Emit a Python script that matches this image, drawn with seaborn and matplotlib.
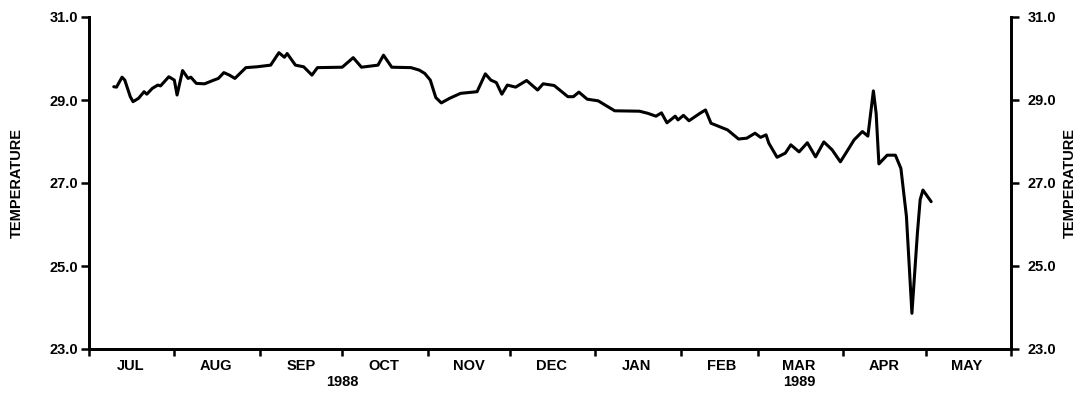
import matplotlib
matplotlib.use("Agg")
import matplotlib.pyplot as plt
import matplotlib.ticker as mticker
import matplotlib.transforms as mtransforms
import pandas as pd
import seaborn as sns

# Daily water temperature record, July 1988 - May 1989
dates = [
    "1988-07-10", "1988-07-11", "1988-07-13", "1988-07-14", "1988-07-16",
    "1988-07-17", "1988-07-19", "1988-07-21", "1988-07-22", "1988-07-24",
    "1988-07-26", "1988-07-27", "1988-07-30", "1988-08-01", "1988-08-02",
    "1988-08-04", "1988-08-06", "1988-08-07", "1988-08-09", "1988-08-12",
    "1988-08-15", "1988-08-17", "1988-08-19", "1988-08-21", "1988-08-23",
    "1988-08-27", "1988-08-31", "1988-09-05", "1988-09-08", "1988-09-10",
    "1988-09-11", "1988-09-14", "1988-09-17", "1988-09-20", "1988-09-22",
    "1988-10-01", "1988-10-05", "1988-10-08", "1988-10-14", "1988-10-16",
    "1988-10-19", "1988-10-26", "1988-10-29", "1988-10-31", "1988-11-01",
    "1988-11-02", "1988-11-04", "1988-11-06", "1988-11-09", "1988-11-13",
    "1988-11-19", "1988-11-22", "1988-11-24", "1988-11-26", "1988-11-28",
    "1988-11-30", "1988-12-03", "1988-12-07", "1988-12-11", "1988-12-13",
    "1988-12-17", "1988-12-22", "1988-12-24", "1988-12-26", "1988-12-29",
    "1989-01-02", "1989-01-08", "1989-01-17", "1989-01-20", "1989-01-23",
    "1989-01-25", "1989-01-27", "1989-01-30", "1989-01-31", "1989-02-02",
    "1989-02-04", "1989-02-08", "1989-02-10", "1989-02-12", "1989-02-18",
    "1989-02-22", "1989-02-25", "1989-02-28", "1989-03-02", "1989-03-04",
    "1989-03-05", "1989-03-08", "1989-03-11", "1989-03-13", "1989-03-16",
    "1989-03-19", "1989-03-22", "1989-03-25", "1989-03-28", "1989-03-31",
    "1989-04-02", "1989-04-05", "1989-04-08", "1989-04-10", "1989-04-12",
    "1989-04-13", "1989-04-14", "1989-04-17", "1989-04-20", "1989-04-22",
    "1989-04-24", "1989-04-26", "1989-04-28", "1989-04-29", "1989-04-30",
    "1989-05-03",
]
temperature = [
    29.32, 29.31, 29.55, 29.48, 29.08,
    28.96, 29.04, 29.20, 29.14, 29.28,
    29.36, 29.34, 29.56, 29.48, 29.12,
    29.71, 29.52, 29.55, 29.40, 29.39,
    29.47, 29.52, 29.66, 29.60, 29.52,
    29.78, 29.80, 29.84, 30.14, 30.03,
    30.12, 29.84, 29.80, 29.60, 29.78,
    29.79, 30.02, 29.79, 29.84, 30.08,
    29.79, 29.78, 29.72, 29.64, 29.56,
    29.48, 29.06, 28.93, 29.04, 29.16,
    29.20, 29.63, 29.48, 29.42, 29.14,
    29.36, 29.31, 29.47, 29.24, 29.39,
    29.35, 29.08, 29.08, 29.19, 29.02,
    28.98, 28.74, 28.73, 28.68, 28.61,
    28.69, 28.45, 28.61, 28.52, 28.63,
    28.50, 28.68, 28.76, 28.44, 28.28,
    28.06, 28.08, 28.20, 28.10, 28.16,
    27.96, 27.62, 27.72, 27.92, 27.75,
    27.97, 27.63, 27.99, 27.80, 27.51,
    27.72, 28.04, 28.24, 28.13, 29.22,
    28.68, 27.46, 27.67, 27.67, 27.35,
    26.20, 23.86, 25.80, 26.60, 26.83,
    26.55,
]

month_labels = ["JUL", "AUG", "SEP", "OCT", "NOV", "DEC",
                "JAN", "FEB", "MAR", "APR", "MAY"]
month_label_dates = ["1988-07-16", "1988-08-16", "1988-09-16", "1988-10-16",
                     "1988-11-16", "1988-12-16", "1989-01-16", "1989-02-16",
                     "1989-03-16", "1989-04-16", "1989-05-16"]
month_starts = ["1988-07-01", "1988-08-01", "1988-09-01", "1988-10-01",
                "1988-11-01", "1988-12-01", "1989-01-01", "1989-02-01",
                "1989-03-01", "1989-04-01", "1989-05-01", "1989-06-01"]
year_labels = ["1988", "1989"]
year_label_dates = ["1988-10-01", "1989-03-16"]
y_ticks = [23.0, 25.0, 27.0, 29.0, 31.0]
y_label = "TEMPERATURE"

sns.set_style("ticks")
plt.rcParams["font.family"] = ["Liberation Sans", "DejaVu Sans"]
plt.rcParams["font.weight"] = "bold"
plt.rcParams["font.size"] = 10.5
for key in ("text.color", "axes.labelcolor", "xtick.color", "ytick.color",
            "axes.edgecolor"):
    plt.rcParams[key] = "black"

df = pd.DataFrame({"date": pd.to_datetime(dates), "temperature": temperature})

W, H = 1083, 393
fig = plt.figure(figsize=(W / 100, H / 100), dpi=100)
left, right, top, bottom = 89, 1011, 17, 349
ax = fig.add_axes([left / W, 1 - bottom / H, (right - left) / W, (bottom - top) / H])

sns.lineplot(data=df, x="date", y="temperature", ax=ax, color="black",
             linewidth=2.2, estimator=None, sort=True,
             solid_joinstyle="round", solid_capstyle="round")

x0, x1 = pd.Timestamp(month_starts[0]), pd.Timestamp(month_starts[-1])
ax.set_xlim(x0, x1)
ax.set_ylim(y_ticks[0], y_ticks[-1])

# Month boundaries as ticks, month names centred between them
ax.xaxis.set_major_locator(mticker.FixedLocator(
    matplotlib.dates.date2num(pd.to_datetime(month_starts))))
ax.xaxis.set_major_formatter(mticker.NullFormatter())
ax.xaxis.set_minor_locator(mticker.FixedLocator(
    matplotlib.dates.date2num(pd.to_datetime(month_label_dates))))
ax.xaxis.set_minor_formatter(mticker.FixedFormatter(month_labels))
ax.tick_params(axis="x", which="major", direction="out", length=5, width=1.8)
ax.tick_params(axis="x", which="minor", length=0, pad=7.5, labelsize=10.5)

blend = mtransforms.blended_transform_factory(ax.transData, ax.transAxes)
for lab, d in zip(year_labels, year_label_dates):
    ax.text(pd.Timestamp(d), -0.1, lab, transform=blend, ha="center",
            va="center", fontsize=10.5, fontweight="bold")

ax.set_yticks(y_ticks)
ax.yaxis.set_major_formatter(mticker.FormatStrFormatter("%.1f"))
ax.tick_params(axis="y", direction="out", length=6, width=1.8, pad=1.5,
               labelsize=10.5)
ax.set_xlabel("")
ax.set_ylabel(y_label, fontsize=10.5, fontweight="bold")
ax.yaxis.set_label_coords(-0.0705, 0.5)

ax2 = ax.twinx()
ax2.set_ylim(y_ticks[0], y_ticks[-1])
ax2.set_yticks(y_ticks)
ax2.yaxis.set_major_formatter(mticker.FormatStrFormatter("%.1f"))
ax2.tick_params(axis="y", direction="out", length=6, width=1.8, pad=6,
                labelsize=10.5)
ax2.set_ylabel(y_label, fontsize=10.5, fontweight="bold", rotation=90)
ax2.yaxis.set_label_coords(1.0565, 0.5)

for a in (ax, ax2):
    a.spines["top"].set_visible(False)
    for s in ("left", "right", "bottom"):
        a.spines[s].set_linewidth(2.0)
        a.spines[s].set_color("black")

fig.savefig("out.png", dpi=100)
